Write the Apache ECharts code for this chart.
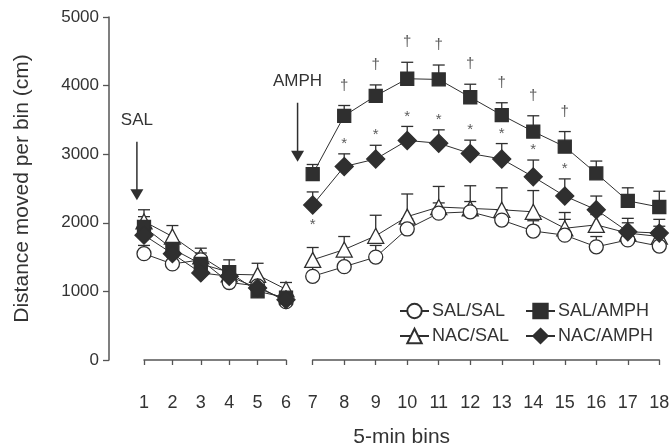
<!DOCTYPE html>
<html><head><meta charset="utf-8">
<script src="https://cdn.jsdelivr.net/npm/echarts@6/dist/echarts.min.js"></script>
<style>html,body{margin:0;padding:0;background:#fff}#c{width:670px;height:447px}</style>
</head><body><div id="c"></div>
<script>
// ---- data ----
const binsPre = [1, 2, 3, 4, 5, 6];
const binsPost = [7, 8, 9, 10, 11, 12, 13, 14, 15, 16, 17, 18];
const yMin = 0, yMax = 5000, yStep = 1000;

const salSalMean  = [1550, 1400, 1460, 1130, 1080, 850, 1220, 1360, 1500, 1910, 2140, 2160, 2040, 1880, 1820, 1650, 1750, 1660];
const salSalErr   = [120, 100, 100, 100, 100, 80, 130, 150, 170, 150, 150, 150, 150, 150, 230, 150, 150, 150];
const nacSalMean  = [2020, 1800, 1510, 1250, 1240, 1030, 1460, 1610, 1810, 2090, 2230, 2210, 2190, 2160, 1920, 1970, 1850, 1800];
const nacSalErr   = [170, 160, 120, 120, 170, 100, 180, 190, 300, 330, 300, 330, 320, 310, 230, 150, 150, 150];
const salAmphMean = [1940, 1620, 1400, 1280, 1000, 910, 2710, 3560, 3850, 4100, 4090, 3830, 3570, 3330, 3110, 2720, 2320, 2230];
const salAmphErr  = [150, 130, 120, 180, 120, 80, 140, 150, 160, 240, 210, 190, 180, 230, 220, 180, 190, 230];
const nacAmphMean = [1820, 1550, 1270, 1220, 1050, 880, 2260, 2820, 2930, 3200, 3160, 3010, 2930, 2670, 2390, 2190, 1870, 1850];
const nacAmphErr  = [120, 120, 100, 100, 100, 80, 190, 185, 200, 205, 195, 195, 225, 245, 250, 200, 195, 200];

const daggerBins = [8, 9, 10, 11, 12, 13, 14, 15];       // † above SAL/AMPH
const starAboveBins = [8, 9, 10, 11, 12, 13, 14, 15];    // * above NAC/AMPH
const starBelowBins = [7];                               // * below NAC/AMPH

// ---- styling ----
const INK = '#2f2f2f';
const AXIS = '#555';
const FONT = '"Liberation Sans", Arial, Helvetica, sans-serif';
const allBins = binsPre.concat(binsPost);

const groups = [
  { name: 'NAC/SAL',  mean: nacSalMean,  err: nacSalErr,  symbol: 'triangle', size: [16, 15], fill: '#fff' },
  { name: 'SAL/SAL',  mean: salSalMean,  err: salSalErr,  symbol: 'circle',   size: 14,       fill: '#fff' },
  { name: 'SAL/AMPH', mean: salAmphMean, err: salAmphErr, symbol: 'rect',     size: 13,       fill: INK },
  { name: 'NAC/AMPH', mean: nacAmphMean, err: nacAmphErr, symbol: 'diamond',  size: [18, 18], fill: INK }
];

function pts(g, bins) {
  return bins.map(b => [b, g.mean[allBins.indexOf(b)], g.err[allBins.indexOf(b)]]);
}

function errRender(params, api) {
  const x = api.value(0), m = api.value(1), e = api.value(2);
  const p0 = api.coord([x, m]);
  const p1 = api.coord([x, m + e]);
  const st = { stroke: INK, lineWidth: 1.3 };
  return { type: 'group', children: [
    { type: 'line', shape: { x1: p0[0], y1: p0[1], x2: p1[0], y2: p1[1] }, style: st },
    { type: 'line', shape: { x1: p1[0] - 6, y1: p1[1], x2: p1[0] + 6, y2: p1[1] }, style: st }
  ]};
}

const series = [];
[0, 1].forEach(gi => {
  const bins = gi === 0 ? binsPre : binsPost;
  groups.forEach(g => {
    series.push({
      type: 'custom', name: g.name + ' err', xAxisIndex: gi, yAxisIndex: gi, z: 1,
      renderItem: errRender, encode: { x: 0, y: 1 }, data: pts(g, bins), silent: true
    });
  });
  groups.forEach(g => {
    series.push({
      type: 'line', name: g.name, xAxisIndex: gi, yAxisIndex: gi, z: 3,
      data: pts(g, bins).map(p => [p[0], p[1]]),
      symbol: g.symbol, symbolSize: g.size, showAllSymbol: true,
      lineStyle: { color: INK, width: 1 },
      itemStyle: { color: g.fill, borderColor: INK, borderWidth: 1.3 },
      emphasis: { disabled: true }
    });
  });
});

// significance marks
function markSeries(text, bins, g, above, off) {
  return {
    type: 'scatter', xAxisIndex: 1, yAxisIndex: 1, z: 4, symbolSize: 0, silent: true,
    data: bins.map(b => { const i = allBins.indexOf(b); return [b, above ? g.mean[i] + g.err[i] : g.mean[i]]; }),
    label: { show: true, position: 'inside', formatter: text, offset: [0, off],
             color: INK, fontSize: 15, fontFamily: FONT }
  };
}
series.push(markSeries('†', daggerBins, groups[2], true, -20));
series.push(markSeries('*', starAboveBins, groups[3], true, -10));
series.push(markSeries('*', starBelowBins, groups[3], false, 20));

const axisLine = { show: true, lineStyle: { color: AXIS, width: 1.5 } };
const labelStyle = { color: '#333', fontSize: 18, fontFamily: FONT, formatter: v => String(v) };

const option = {
  animation: false,
  backgroundColor: '#fff',
  grid: [
    { left: 144, width: 142, top: 17, height: 343, outerBoundsMode: 'none' },
    { left: 312.7, width: 346.6, top: 17, height: 343, outerBoundsMode: 'none' }
  ],
  xAxis: [
    { type: 'value', gridIndex: 0, min: binsPre[0], max: binsPre[binsPre.length - 1], interval: 1, offset: 25,
      axisLine, axisTick: { show: true, length: 5, lineStyle: { color: AXIS, width: 1.3 } },
      axisLabel: Object.assign({ margin: 9 }, labelStyle), splitLine: { show: false } },
    { type: 'value', gridIndex: 1, min: binsPost[0], max: binsPost[binsPost.length - 1], interval: 1, offset: 25,
      axisLine, axisTick: { show: true, length: 5, lineStyle: { color: AXIS, width: 1.3 } },
      axisLabel: Object.assign({ margin: 9 }, labelStyle), splitLine: { show: false } }
  ],
  yAxis: [
    { type: 'value', gridIndex: 0, min: yMin, max: yMax, interval: yStep, offset: 35,
      axisLine, axisTick: { show: true, length: 6, lineStyle: { color: AXIS, width: 1.3 } },
      axisLabel: Object.assign({ margin: 10 }, labelStyle, { fontSize: 17 }), splitLine: { show: false },
      name: 'Distance moved per bin (cm)', nameLocation: 'middle', nameGap: 76,
      nameTextStyle: { color: '#333', fontSize: 21, fontFamily: FONT } },
    { type: 'value', gridIndex: 1, min: yMin, max: yMax, interval: yStep, show: false }
  ],
  legend: [
    { data: ['SAL/SAL', 'NAC/SAL'], orient: 'vertical', left: 394, top: 297, itemWidth: 29, itemHeight: 18, itemGap: 7,
      textStyle: { color: '#333', fontSize: 18, fontFamily: FONT, padding: [0, 0, 0, -2] }, selectedMode: false },
    { data: ['SAL/AMPH', 'NAC/AMPH'], orient: 'vertical', left: 520, top: 297, itemWidth: 29, itemHeight: 18, itemGap: 7,
      textStyle: { color: '#333', fontSize: 18, fontFamily: FONT, padding: [0, 0, 0, -2] }, selectedMode: false }
  ],
  series
};

const chart = echarts.init(document.getElementById('c'), null, { renderer: 'canvas' });
chart.setOption(option);

// annotations (arrows and x title) placed in data coordinates
function px(gi, x, y) { return chart.convertToPixel({ xAxisIndex: gi, yAxisIndex: gi }, [x, y]); }
function arrow(gi, x, yTop, yTip, text, yText) {
  const a = px(gi, x, yTop), b = px(gi, x, yTip), t = px(gi, x, yText);
  return [
    { type: 'line', shape: { x1: a[0], y1: a[1], x2: b[0], y2: b[1] - 10 }, style: { stroke: INK, lineWidth: 1.5 } },
    { type: 'polygon', shape: { points: [[b[0] - 6.5, b[1] - 11], [b[0] + 6.5, b[1] - 11], [b[0], b[1]]] }, style: { fill: INK } },
    { type: 'text', style: { text, x: t[0], y: t[1], align: 'center', verticalAlign: 'middle', fill: '#333', fontSize: 17, fontFamily: FONT } }
  ];
}
const first = px(0, binsPre[0], 0), last = px(1, binsPost[binsPost.length - 1], 0);
chart.setOption({
  graphic: [].concat(
    arrow(0, 0.75, 3180, 2330, 'SAL', 3500),
    arrow(1, 6.52, 3750, 2890, 'AMPH', 4060),
    [{ type: 'text', style: { text: '5-min bins', x: (first[0] + last[0]) / 2, y: first[1] + 77, align: 'center', verticalAlign: 'middle', fill: '#333', fontSize: 21, fontFamily: FONT } }]
  )
});
</script>
</body></html>
